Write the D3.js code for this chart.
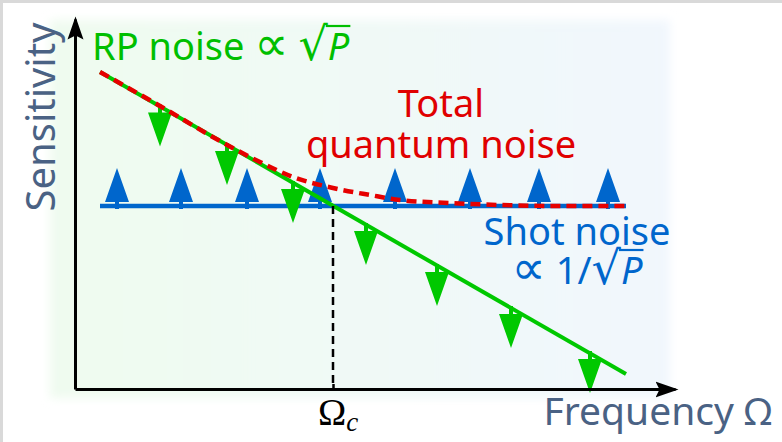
<!doctype html>
<html lang="en">
<head>
<meta charset="utf-8">
<title>Quantum noise sketch</title>
<style>
  body { margin: 0; background: #fff; }
  #chart { width: 782px; height: 442px; }
  .lbl { font-family: "Noto Sans", "Open Sans", sans-serif; }
  .axis path { stroke: #000; stroke-width: 3; }
  .axis line { stroke: #000; stroke-width: 2.5; }
</style>
</head>
<body>
<div id="chart"></div>
<script src="https://d3js.org/d3.v7.min.js"></script>
<script>
  // values (x: frequency, y: sensitivity, arbitrary units)
  var shotX = [25, 551];
  var shotLevel = 183;
  var rpX = [25, 551];
  var rpY = [317, 15];
  var totalX = [25, 85, 145, 185, 218, 258, 295, 325, 375, 425, 475, 551];
  var totalY = [317, 283, 248, 227, 212, 201, 194, 189, 186, 184, 183, 183];
  var omegaC = 258;
  var blueArrowX = [42, 106, 172, 245, 320, 395, 464, 533];
  var greenArrowX = [85, 152, 218, 291, 362, 436, 515];
  var greenArrowY = [282.5, 244, 206, 164, 123, 81, 36];

  var width = 782, height = 442;
  var green = '#00c800', red = '#e60000', blue = '#0066cc', slate = '#4a6284';

  var svg = d3.select('#chart').append('svg')
    .attr('width', width)
    .attr('height', height);

  var x = d3.scaleLinear().domain([0, 600]).range([75, 675]);
  var y = d3.scaleLinear().domain([0, 370]).range([389, 19]);

  var defs = svg.append('defs');
  var grad = defs.append('linearGradient').attr('id', 'bg').attr('x1', '0%').attr('x2', '100%');
  grad.append('stop').attr('offset', '0%').attr('stop-color', '#effbef');
  grad.append('stop').attr('offset', '100%').attr('stop-color', '#f1f7fd');
  defs.append('filter').attr('id', 'soft').attr('x', '-10%').attr('y', '-10%')
    .attr('width', '120%').attr('height', '120%')
    .append('feGaussianBlur').attr('stdDeviation', 5);
  defs.append('marker')
    .attr('id', 'arrow')
    .attr('markerUnits', 'userSpaceOnUse')
    .attr('viewBox', '0 -9 24 18')
    .attr('markerWidth', 24).attr('markerHeight', 18)
    .attr('refX', 20).attr('refY', 0)
    .attr('orient', 'auto')
    .append('path')
    .attr('d', 'M0,-8L23,0L0,8L4,0Z')
    .attr('fill', '#000');

  // frame bits
  svg.append('rect').attr('x', 0).attr('y', 0).attr('width', width).attr('height', 3).attr('fill', '#d9d9d9');
  svg.append('rect').attr('x', 0).attr('y', 0).attr('width', 3).attr('height', height).attr('fill', '#d9d9d9');

  svg.append('rect')
    .attr('x', 50).attr('y', 20)
    .attr('width', 620).attr('height', 378)
    .attr('fill', 'url(#bg)')
    .attr('filter', 'url(#soft)');

  // shot noise
  svg.append('line')
    .attr('x1', x(shotX[0])).attr('x2', x(shotX[1]))
    .attr('y1', y(shotLevel)).attr('y2', y(shotLevel))
    .attr('stroke', blue).attr('stroke-width', 4.5);

  svg.append('g').selectAll('path')
    .data(blueArrowX)
    .enter()
    .append('path')
    .attr('transform', function(d){ return 'translate(' + x(d) + ',' + y(shotLevel) + ')'; })
    .attr('d', 'M-2,3V-4H-12L0,-38L12,-4H2V3Z')
    .attr('fill', blue);

  // radiation pressure noise
  svg.append('line')
    .attr('x1', x(rpX[0])).attr('x2', x(rpX[1]))
    .attr('y1', y(rpY[0])).attr('y2', y(rpY[1]))
    .attr('stroke', green).attr('stroke-width', 4);

  svg.append('g').selectAll('path')
    .data(greenArrowX)
    .enter()
    .append('path')
    .attr('transform', function(d, i){ return 'translate(' + x(d) + ',' + y(greenArrowY[i]) + ')'; })
    .attr('d', 'M-2,-2V6H-12L0,40L12,6H2V-2Z')
    .attr('fill', green);

  // total quantum noise
  var totalLine = d3.line()
    .x(function(d){ return x(d); })
    .y(function(d, i){ return y(totalY[i]); })
    .curve(d3.curveMonotoneX);

  svg.append('path')
    .attr('d', totalLine(totalX))
    .attr('fill', 'none')
    .attr('stroke', red)
    .attr('stroke-width', 4.5)
    .attr('stroke-dasharray', '10,6');

  // omega_c marker
  svg.append('line')
    .attr('x1', x(omegaC)).attr('x2', x(omegaC))
    .attr('y1', y(shotLevel)).attr('y2', y(0))
    .attr('stroke', '#000').attr('stroke-width', 2.5)
    .attr('stroke-dasharray', '8,5');

  // axes
  var xaxis = d3.axisBottom(x).tickValues([omegaC]).tickSize(-5).tickSizeOuter(0).tickFormat('');
  svg.append('g')
    .attr('class', 'axis')
    .attr('transform', 'translate(0,' + y(0) + ')')
    .call(xaxis)
    .select('.domain')
    .attr('marker-end', 'url(#arrow)');

  var yaxis = d3.axisLeft(y).tickValues([]).tickSizeOuter(0);
  svg.append('g')
    .attr('class', 'axis')
    .attr('transform', 'translate(' + x(0) + ',0)')
    .call(yaxis)
    .select('.domain')
    .attr('marker-end', 'url(#arrow)');

  // labels
  // bar of the radical: from the end of the root sign to the end of P
  function overbar(textSel, rootIdx, color, lift){
    var node = textSel.node();
    var n = node.getNumberOfChars();
    var x0 = node.getEndPositionOfChar(rootIdx).x;
    var x1 = node.getEndPositionOfChar(Math.min(rootIdx + 1, n - 1)).x;
    var by = node.getStartPositionOfChar(rootIdx).y;
    svg.append('line')
      .attr('x1', x0 - 2).attr('x2', x1 + 1)
      .attr('y1', by - lift).attr('y2', by - lift)
      .attr('stroke', color).attr('stroke-width', 2.2);
  }

  function radicalLabel(sel, head){
    sel.append('tspan').text(head);
    sel.append('tspan').attr('font-size', 48).attr('font-family', '"DejaVu Sans", sans-serif').text('\u221D');
    sel.append('tspan').text(sel.attr('data-mid'));
    sel.append('tspan').attr('font-size', 46).attr('font-family', '"DejaVu Sans", sans-serif').text('\u221A');
    sel.append('tspan').attr('font-style', 'italic').text('P');
  }

  var rpLabel = svg.append('text').attr('class', 'lbl')
    .attr('x', 92).attr('y', 60)
    .attr('data-mid', ' ')
    .attr('font-size', 38).attr('fill', '#00bf00');
  radicalLabel(rpLabel, 'RP noise ');
  overbar(rpLabel, rpLabel.node().getNumberOfChars() - 2, '#00bf00', 34);

  svg.append('text').attr('class', 'lbl')
    .attr('x', 441).attr('y', 117)
    .attr('text-anchor', 'middle')
    .attr('font-size', 38).attr('fill', '#e00000')
    .text('Total');
  svg.append('text').attr('class', 'lbl')
    .attr('x', 441).attr('y', 158)
    .attr('text-anchor', 'middle')
    .attr('font-size', 38).attr('fill', '#e00000')
    .text('quantum noise');

  svg.append('text').attr('class', 'lbl')
    .attr('x', 577).attr('y', 245)
    .attr('text-anchor', 'middle')
    .attr('font-size', 38).attr('fill', blue)
    .text('Shot noise');
  var shotLabel = svg.append('text').attr('class', 'lbl')
    .attr('x', 577).attr('y', 284)
    .attr('data-mid', ' 1/')
    .attr('text-anchor', 'middle')
    .attr('font-size', 38).attr('fill', blue);
  radicalLabel(shotLabel, '');
  overbar(shotLabel, shotLabel.node().getNumberOfChars() - 2, blue, 34);

  svg.append('text').attr('class', 'lbl')
    .attr('transform', 'translate(55,117) rotate(-90)')
    .attr('text-anchor', 'middle')
    .attr('font-size', 40).attr('fill', slate)
    .text('Sensitivity');

  svg.append('text').attr('class', 'lbl')
    .attr('x', 772).attr('y', 425)
    .attr('text-anchor', 'end')
    .attr('font-size', 39).attr('fill', slate)
    .text('Frequency \u03A9');

  var oc = svg.append('text')
    .attr('x', x(omegaC) - 15).attr('y', 425)
    .attr('font-family', '"Liberation Serif", serif')
    .attr('font-size', 38).attr('fill', '#000');
  oc.append('tspan').text('\u03A9');
  oc.append('tspan').attr('font-style', 'italic').attr('font-size', 27).attr('dy', 6).text('c');
</script>
</body>
</html>
